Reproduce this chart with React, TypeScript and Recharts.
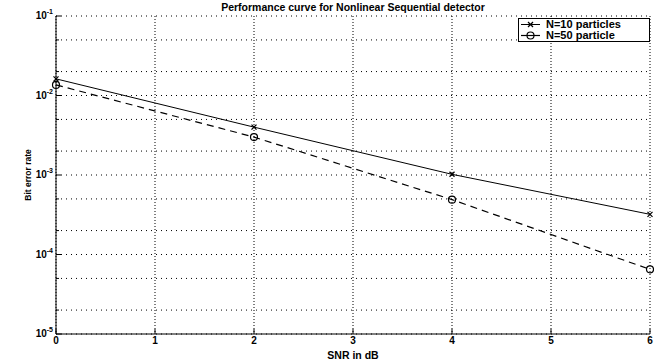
import { LineChart, Line, XAxis, YAxis, CartesianGrid, Legend } from "recharts";

// SNR points and bit error rates
const snr = [0, 2, 4, 6];
const ber10 = [0.0162, 0.004, 0.00102, 0.00032];
const ber50 = [0.0136, 0.003, 0.00049, 0.000065];

const xTicks = [0, 1, 2, 3, 4, 5, 6];
const decades = [1e-5, 1e-4, 1e-3, 1e-2, 1e-1];
const decadeLabels = ["-5", "-4", "-3", "-2", "-1"];
const minorSteps = [2, 3, 4, 5, 6, 7, 8, 9];

const yTicks = decades.flatMap((d, i) =>
  i < decades.length - 1 ? [d, ...minorSteps.map((m) => m * d)] : [d]
);

const data = snr.map((s, i) => ({ snr: s, n10: ber10[i], n50: ber50[i] }));

const FONT = "'Liberation Sans', Arial, Helvetica, sans-serif";

const decadeIndex = (v: number) =>
  decades.findIndex((d) => Math.abs(d - v) / d < 1e-6);

function LeftTick({ x, y, payload }: any) {
  const idx = decadeIndex(payload.value);
  const major = idx >= 0;
  return (
    <g>
      <line x1={x} x2={x + (major ? 5 : 3)} y1={y} y2={y} stroke="#000" />
      {major && (
        <text x={x - 3} y={y + 3} textAnchor="end" fontFamily={FONT} fontWeight="bold" fontSize={10} fill="#000">
          10
          <tspan dy={-5} fontSize={7}>{decadeLabels[idx]}</tspan>
        </text>
      )}
    </g>
  );
}

function RightTick({ x, y, payload }: any) {
  const major = decadeIndex(payload.value) >= 0;
  return <line x1={x} x2={x - (major ? 5 : 3)} y1={y} y2={y} stroke="#000" />;
}

function BottomTick({ x, y, payload }: any) {
  return (
    <g>
      <line x1={x} x2={x} y1={y} y2={y - 5} stroke="#000" />
      <text x={x} y={y + 10} textAnchor="middle" fontFamily={FONT} fontWeight="bold" fontSize={10} fill="#000">
        {payload.value}
      </text>
    </g>
  );
}

function TopTick({ x, y }: any) {
  return <line x1={x} x2={x} y1={y} y2={y + 5} stroke="#000" />;
}

function CrossDot({ cx, cy }: any) {
  const s = 2.5;
  return (
    <g stroke="#000" strokeWidth={1.3}>
      <line x1={cx - s} y1={cy - s} x2={cx + s} y2={cy + s} />
      <line x1={cx - s} y1={cy + s} x2={cx + s} y2={cy - s} />
    </g>
  );
}

function CircleDot({ cx, cy }: any) {
  return <circle cx={cx} cy={cy} r={3.5} fill="none" stroke="#000" strokeWidth={1.2} />;
}

function LegendBox() {
  const row = { display: "flex", alignItems: "center", height: 11 } as const;
  return (
    <div
      style={{
        border: "1px solid #000",
        background: "#fff",
        padding: 0,
        fontFamily: FONT,
        fontWeight: "bold",
        fontSize: 11,
        lineHeight: "11px",
        color: "#000",
        whiteSpace: "nowrap",
      }}
    >
      <div style={row}>
        <svg width={24} height={11}>
          <line x1={2} x2={21} y1={5.5} y2={5.5} stroke="#000" />
          <CrossDot cx={11.5} cy={5.5} />
        </svg>
        <span style={{ marginLeft: 3 }}>N=10 particles</span>
      </div>
      <div style={row}>
        <svg width={24} height={11}>
          <line x1={2} x2={21} y1={5.5} y2={5.5} stroke="#000" strokeWidth={1.2} />
          <CircleDot cx={11.5} cy={5.5} />
        </svg>
        <span style={{ marginLeft: 3 }}>N=50 particle</span>
      </div>
    </div>
  );
}

export default function App() {
  return (
    <div style={{ position: "absolute", left: 0, top: 0, width: 654, height: 362, background: "#fff" }}>
      <div
        style={{
          position: "absolute",
          left: 56,
          width: 594,
          top: 1,
          textAlign: "center",
          fontFamily: FONT,
          fontWeight: "bold",
          fontSize: 10.5,
          lineHeight: "12px",
          color: "#000",
        }}
      >
        Performance curve for Nonlinear Sequential detector
      </div>
      <LineChart width={654} height={362} data={data} margin={{ top: 16, right: 4, bottom: 0, left: 0 }}>
        <CartesianGrid horizontal={false} stroke="#000" strokeDasharray="1 2" />
        <CartesianGrid vertical={false} stroke="#000" strokeDasharray="1 4" />
        <XAxis
          dataKey="snr"
          type="number"
          domain={[0, 6]}
          ticks={xTicks}
          height={28}
          tickSize={0}
          tickMargin={0}
          tickLine={false}
          tick={<BottomTick />}
          axisLine={{ stroke: "#000" }}
          label={{ value: "SNR in dB", position: "insideBottom", offset: 3, fontFamily: FONT, fontWeight: "bold", fontSize: 10.5, fill: "#000" }}
        />
        <XAxis
          xAxisId="top"
          orientation="top"
          type="number"
          domain={[0, 6]}
          ticks={xTicks}
          height={0}
          tickSize={0}
          tickMargin={0}
          tickLine={false}
          tick={<TopTick />}
          axisLine={{ stroke: "#000" }}
        />
        <YAxis
          scale="log"
          domain={[1e-5, 1e-1]}
          ticks={yTicks}
          allowDataOverflow
          width={56}
          tickSize={0}
          tickMargin={0}
          tickLine={false}
          tick={<LeftTick />}
          axisLine={{ stroke: "#000" }}
          label={{ value: "Bit error rate", angle: -90, position: "center", fontFamily: FONT, fontWeight: "bold", fontSize: 8.5, fill: "#000" }}
        />
        <YAxis
          yAxisId="right"
          orientation="right"
          scale="log"
          domain={[1e-5, 1e-1]}
          ticks={yTicks}
          allowDataOverflow
          width={0}
          tickSize={0}
          tickMargin={0}
          tickLine={false}
          tick={<RightTick />}
          axisLine={{ stroke: "#000" }}
        />
        <Legend
          layout="vertical"
          align="center"
          verticalAlign="middle"
          wrapperStyle={{ left: 518, top: 18, width: 132 }}
          content={<LegendBox />}
        />
        <Line
          dataKey="n10"
          stroke="#000"
          strokeWidth={1}
          dot={<CrossDot />}
          isAnimationActive={false}
        />
        <Line
          dataKey="n50"
          stroke="#000"
          strokeWidth={1.2}
          strokeDasharray="7 5"
          dot={<CircleDot />}
          isAnimationActive={false}
        />
      </LineChart>
    </div>
  );
}
